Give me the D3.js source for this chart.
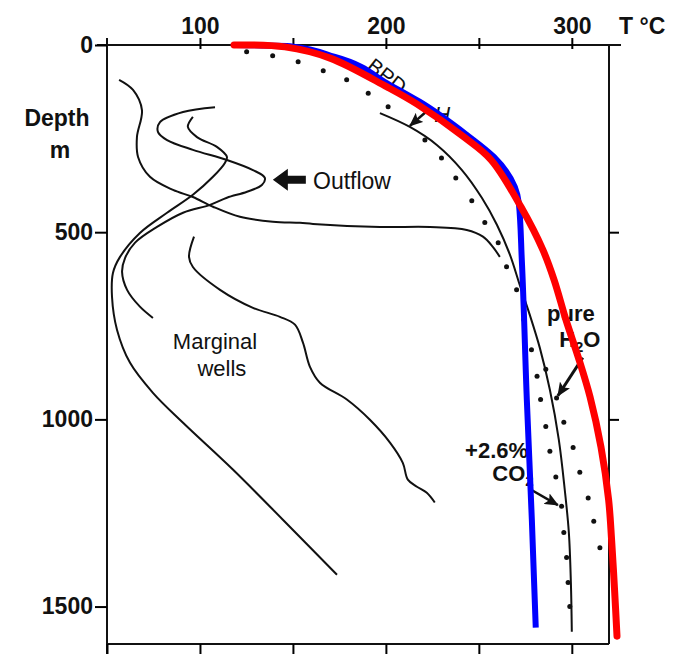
<!DOCTYPE html>
<html>
<head>
<meta charset="utf-8">
<script src="https://cdn.jsdelivr.net/npm/d3@7"></script>
<style>
  body { margin: 0; background: #fff; }
  svg { display: block; }
  .bold { font-family: "Liberation Sans", Arial, sans-serif; font-weight: bold; fill: #111; }
  .note { font-family: "Liberation Sans", Arial, sans-serif; fill: #111; }
</style>
</head>
<body>
<div id="chart"></div>
<script>
// temperature (°C) / depth (m) pairs
const wellA = [[56.5,93],[64,120],[68.8,174],[66.1,246],[66.7,299],[73.1,352],[85.5,387],[96.2,406],[107,432],[121.5,459],[139.2,472],[153.8,475],[160.8,478],[196.8,486],[223.7,486],[243.5,494],[252.2,512],[257.5,539],[261.3,566]];
const wellB = [[108.1,166],[90.9,179],[78.5,206],[77.4,232],[82.3,254],[96.2,280],[114.5,307],[128.5,334],[134.9,355],[133.3,374],[125.3,392],[114.5,408],[105.4,427],[90.9,448],[76.9,486],[65.1,528],[59.7,569],[58.1,606],[60.8,654],[67.7,699],[74.7,729]];
const wellC = [[96.2,192],[93.5,219],[98.4,246],[109.1,272],[114.5,299],[113.4,315],[107,352],[96.2,400],[82.3,448],[67.7,502],[57,566],[53.2,609],[52.7,673],[55.4,761],[62.4,849],[74.7,929],[90.9,1009],[117.7,1134],[144.6,1268],[173.7,1415]];
const wellD = [[96.8,512],[94.1,566],[96.2,593],[110.8,654],[128.5,702],[143,726],[151.1,747],[155.4,795],[159.1,859],[164.5,902],[179,947],[191.4,1001],[202.2,1062],[209.1,1116],[211.8,1161],[216.7,1180],[222,1196],[226.3,1222]];
const mainWell = [[196.8,182],[212.9,219],[227.4,267],[240.9,334],[251.6,408],[259.7,480],[266.7,560],[272,641],[277.4,721],[282.8,809],[288.2,921],[293,1054],[296.2,1188],[298.4,1302],[299.5,1436],[300,1567]];

const pureH2O = [[125.1,18],[139.1,29],[152.8,45],[166.3,69],[178.9,93],[190.5,129],[201.2,165],
                 [286,866],[291.8,943],[295.7,1008],[300.7,1075],[304.3,1141],[308.8,1210],[311.8,1272],[315.1,1343]];
const co2Dots = [[221,254],[229.9,302],[237.6,355],[246.2,416],[253.2,474],[260.4,528],[264.9,592],[270.3,654],[274.2,734],
                 [278.3,814],[281.3,885],[283.2,947],[286,1019],[288.2,1085],[291.4,1154],[294.5,1232],[295.7,1302],[297.2,1369],[298,1436],[298.9,1500]];

const redLine = [[118.3,0],[145.7,5],[170,35],[200.6,112],[216.8,158],[242,246],[256.6,307],[272.7,433],[284.5,548],[290.5,628],[296.9,735],[303.4,833],[309.8,940],[315.7,1074],[319.8,1215],[321.4,1322],[323,1456],[324.3,1579]];
const blueLine = [[119.4,0],[148.4,3],[172.6,32],[202.2,107],[218.3,152],[243.5,240],[258.1,299],[271.5,422],[273.1,574],[275.8,947],[278.5,1268],[280.6,1556]];

const tempTicks = [100, 150, 200, 250, 300];
const tempLabels = [100, 200, 300];
const depthTicks = [0, 500, 1000, 1500];

const width = 675, height = 654;
const x = d3.scaleLinear().domain([50, 320]).range([107, 609]);
const y = d3.scaleLinear().domain([0, 1600]).range([45, 644]);

const svg = d3.select("#chart").append("svg")
  .attr("width", width).attr("height", height);

svg.append("defs").append("marker")
  .attr("id", "head")
  .attr("markerUnits", "userSpaceOnUse")
  .attr("markerWidth", 14).attr("markerHeight", 12)
  .attr("refX", 13).attr("refY", 6)
  .attr("orient", "auto")
  .append("path").attr("d", "M0,0L14,6L0,12L3,6Z").attr("fill", "#111");

// frame
const frame = svg.append("g").attr("stroke", "#111").attr("stroke-width", 2).attr("fill", "none");
frame.append("line").attr("x1", x(50) - 10).attr("x2", x(320) + 12).attr("y1", y(0)).attr("y2", y(0));
frame.append("line").attr("x1", x(50)).attr("x2", x(50)).attr("y1", y(0) - 7).attr("y2", height);
frame.append("line").attr("x1", x(320)).attr("x2", x(320)).attr("y1", y(0)).attr("y2", y(1600));
frame.append("line").attr("x1", x(50)).attr("x2", x(320)).attr("y1", y(1600)).attr("y2", y(1600));

// top axis
const topAxis = svg.append("g")
  .attr("transform", `translate(0,${y(0)})`)
  .call(d3.axisTop(x).tickValues(tempTicks).tickSize(7).tickPadding(4)
    .tickFormat(d => tempLabels.includes(d) ? d : ""));
topAxis.select(".domain").remove();
topAxis.selectAll("line").attr("y1", 4).attr("stroke-width", 2);
topAxis.selectAll("text").attr("class", "bold").style("font-size", "23px").attr("font-family", null);

svg.append("text").attr("class", "bold").style("font-size", "23px")
  .attr("x", x(320) + 10).attr("y", y(0) - 11).text("T °C");

// left axis
const leftAxis = svg.append("g")
  .attr("transform", `translate(${x(50)},0)`)
  .call(d3.axisLeft(y).tickValues(depthTicks).tickSize(12).tickPadding(2).tickFormat(d3.format("d")));
leftAxis.select(".domain").remove();
leftAxis.selectAll("line").attr("stroke-width", 2);
leftAxis.selectAll("text").attr("class", "bold").style("font-size", "23px").attr("font-family", null);

// right and bottom ticks
const rightAxis = svg.append("g")
  .attr("transform", `translate(${x(320)},0)`)
  .call(d3.axisRight(y).tickValues([500, 1000]).tickSize(10).tickFormat(""));
rightAxis.select(".domain").remove();
rightAxis.selectAll("line").attr("stroke-width", 2);

const bottomAxis = svg.append("g")
  .attr("transform", `translate(0,${y(1600)})`)
  .call(d3.axisBottom(x).tickValues([50].concat(tempTicks)).tickSize(12).tickFormat(""));
bottomAxis.select(".domain").remove();
bottomAxis.selectAll("line").attr("stroke-width", 2);

svg.append("text").attr("class", "bold").style("font-size", "23px")
  .attr("text-anchor", "middle").attr("x", 57).attr("y", 126).text("Depth");
svg.append("text").attr("class", "bold").style("font-size", "23px")
  .attr("text-anchor", "middle").attr("x", 60).attr("y", 158).text("m");

// temperature profiles
const smooth = d3.line().x(d => x(d[0])).y(d => y(d[1])).curve(d3.curveCatmullRom.alpha(0.5));
svg.append("g").attr("fill", "none").attr("stroke", "#111").attr("stroke-width", 2)
  .selectAll("path")
  .data([wellA, wellB, wellC, wellD, mainWell])
  .join("path")
  .attr("d", smooth);

// boiling point dots
svg.append("g").attr("fill", "#111")
  .selectAll("circle")
  .data(pureH2O.concat(co2Dots))
  .join("circle")
  .attr("cx", d => x(d[0])).attr("cy", d => y(d[1])).attr("r", 2.5);

// annotations
const outTip = [139.2, 360];
svg.append("path")
  .attr("transform", `translate(${x(outTip[0])},${y(outTip[1])})`)
  .attr("d", "M0,0L15,-11L15,-4L33,-4L33,4L15,4L15,11Z")
  .attr("fill", "#111");
svg.append("text").attr("class", "note").style("font-size", "23px")
  .attr("x", x(160.8)).attr("y", y(384)).text("Outflow");

svg.append("text").attr("class", "note").style("font-size", "22px").attr("text-anchor", "middle")
  .attr("x", x(108.1)).attr("y", y(811)).text("Marginal");
svg.append("text").attr("class", "note").style("font-size", "22px").attr("text-anchor", "middle")
  .attr("x", x(111.8)).attr("y", y(883)).text("wells");

svg.append("text").attr("class", "bold").style("font-size", "22px").attr("text-anchor", "middle")
  .attr("x", x(299.5)).attr("y", y(737)).text("pure");
const h2o = svg.append("text").attr("class", "bold").style("font-size", "22px").attr("text-anchor", "middle")
  .attr("x", x(304.3)).attr("y", y(806));
h2o.append("tspan").text("H");
h2o.append("tspan").attr("dy", 5).style("font-size", "15px").text("2");
h2o.append("tspan").attr("dy", -5).text("O");

svg.append("text").attr("class", "bold").style("font-size", "22px").attr("text-anchor", "end")
  .attr("x", x(276.5)).attr("y", y(1102)).text("+2.6%");
const co2 = svg.append("text").attr("class", "bold").style("font-size", "22px").attr("text-anchor", "end")
  .attr("x", x(279.5)).attr("y", y(1164));
co2.append("tspan").text("CO");
co2.append("tspan").attr("dy", 5).style("font-size", "15px").text("2");

const arrows = [
  { from: [305.9, 835], to: [292.5, 937], w: 3 },
  { from: [277.4, 1186], to: [292.5, 1229], w: 2.5 },
  { from: [221.5, 179], to: [212.9, 216], w: 2.5 }
];
svg.append("g").selectAll("line")
  .data(arrows)
  .join("line")
  .attr("x1", d => x(d.from[0])).attr("y1", d => y(d.from[1]))
  .attr("x2", d => x(d.to[0])).attr("y2", d => y(d.to[1]))
  .attr("stroke", "#111").attr("stroke-width", d => d.w)
  .attr("marker-end", "url(#head)");

svg.append("text").attr("class", "note").style("font-size", "22px").style("font-style", "italic")
  .attr("x", x(226)).attr("y", y(205)).text("H");
svg.append("text").attr("class", "note").style("font-size", "21px")
  .attr("transform", `translate(${x(189)},${y(63)}) rotate(38)`).text("BPD");

// overlay lines drawn on top of the scan
const blueCurve = d3.line().x(d => x(d[0])).y(d => y(d[1])).curve(d3.curveMonotoneY);
const redCurve = d3.line().x(d => x(d[0])).y(d => y(d[1])).curve(d3.curveCatmullRom.alpha(0.5));
svg.append("path").datum(blueLine)
  .attr("d", blueCurve).attr("fill", "none").attr("stroke", "#0000ff")
  .attr("stroke-width", 6).attr("stroke-linejoin", "round");
svg.append("path").datum(redLine)
  .attr("d", redCurve).attr("fill", "none").attr("stroke", "#ff0000")
  .attr("stroke-width", 7).attr("stroke-linejoin", "round").attr("stroke-linecap", "round");
</script>
</body>
</html>
